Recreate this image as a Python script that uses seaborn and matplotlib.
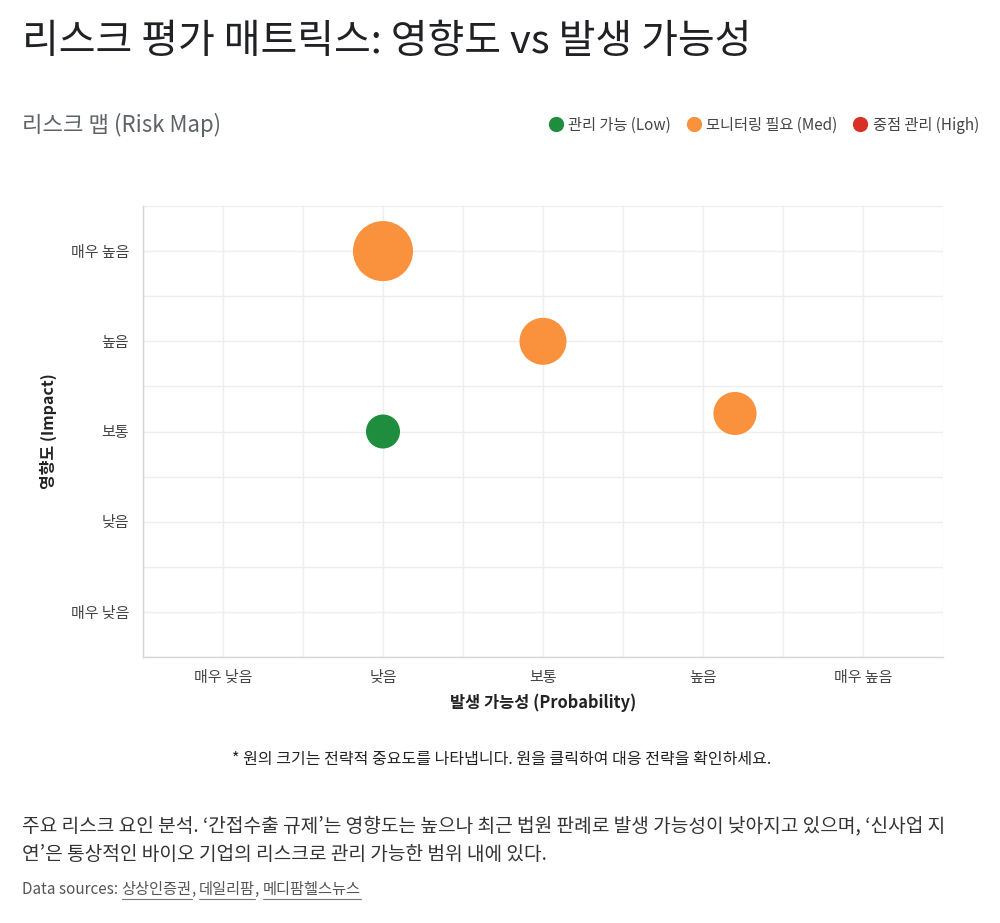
import matplotlib
matplotlib.use('Agg')
import matplotlib.pyplot as plt
from matplotlib.lines import Line2D
import seaborn as sns
import pandas as pd

# data
risk_names = ['간접수출 규제', '리스크 B', '리스크 C', '신사업 지연']
probability = [2, 3, 4.2, 2]
impact = [5, 4, 3.2, 3]
importance = [10, 6, 5, 3]
risk_level = ['Med', 'Med', 'Med', 'Low']

level_order = ['Low', 'Med', 'High']
level_labels = ['관리 가능 (Low)', '모니터링 필요 (Med)', '중점 관리 (High)']
level_colors = ['#1e8e3e', '#f9913d', '#d93025']
scale_labels = ['매우 낮음', '낮음', '보통', '높음', '매우 높음']

risks = pd.DataFrame({'name': risk_names, 'probability': probability,
                      'impact': impact, 'importance': importance,
                      'level': risk_level})

sns.set_style('white')
plt.rcParams['font.family'] = ['Noto Sans CJK KR', 'DejaVu Sans']

fig = plt.figure(figsize=(10, 9.23), dpi=100)
ax = fig.add_axes([0.143, 0.2882, 0.8, 0.4886])

palette = dict(zip(level_order, level_colors))
sns.scatterplot(data=risks, x='probability', y='impact', hue='level',
                palette=palette, size='importance', sizes=(600, 1870),
                size_norm=(3, 10), legend=False, linewidth=0, alpha=1,
                ax=ax, zorder=3)

ax.set_xlim(0.5, 5.5)
ax.set_ylim(0.5, 5.5)
ax.set_xticks(range(1, 6))
ax.set_xticklabels(scale_labels)
ax.set_yticks(range(1, 6))
ax.set_yticklabels(scale_labels)
ax.set_xticks([x + 0.5 for x in range(0, 6)], minor=True)
ax.set_yticks([y + 0.5 for y in range(0, 6)], minor=True)
ax.grid(True, which='both', color='#eeeeee', linewidth=1)
ax.set_axisbelow(True)
ax.tick_params(which='both', length=9, color='#eeeeee', width=1,
               labelsize=10.8, labelcolor='#444444', pad=1)
for side in ['top', 'right']:
    ax.spines[side].set_visible(False)
for side in ['left', 'bottom']:
    ax.spines[side].set_color('#d6d6d6')
    ax.spines[side].set_linewidth(1)

ax.set_xlabel('발생 가능성 (Probability)', fontsize=11.8, fontweight='bold',
              color='#222222', labelpad=6)
ax.set_ylabel('영향도 (Impact)', fontsize=11.5, fontweight='bold',
              color='#222222', labelpad=10)

# titles
fig.text(0.022, 0.955, '리스크 평가 매트릭스: 영향도 vs 발생 가능성',
         fontsize=28.8, color='#202124', va='center')
fig.text(0.022, 0.8646, '리스크 맵 (Risk Map)', fontsize=16,
         color='#5f6368', va='center')

# legend
handles = [Line2D([0], [0], marker='o', linestyle='', markersize=11,
                  markerfacecolor=c, markeredgewidth=0)
           for c in level_colors]
fig.legend(handles, level_labels, loc='center right',
           bbox_to_anchor=(0.985, 0.8646), ncol=3, frameon=False,
           fontsize=11, labelcolor='#444444', handletextpad=0.3,
           columnspacing=1.0, handlelength=1.0, borderaxespad=0)

# footnote and commentary
fig.text(0.502, 0.1766,
         '* 원의 크기는 전략적 중요도를 나타냅니다. 원을 클릭하여 대응 전략을 확인하세요.',
         fontsize=11.5, style='italic', color='#222222', ha='center', va='center')
fig.text(0.022, 0.1051,
         "주요 리스크 요인 분석. \u2018간접수출 규제\u2019는 영향도는 높으나 최근 법원 판례로 발생 가능성이 낮아지고 있으며, \u2018신사업 지",
         fontsize=13.8, color='#333333', va='center')
fig.text(0.022, 0.0737,
         "연\u2019은 통상적인 바이오 기업의 리스크로 관리 가능한 범위 내에 있다.",
         fontsize=13.8, color='#333333', va='center')

# data sources with underlined links
src = fig.text(0.022, 0.0358, 'Data sources: ', fontsize=11,
               color='#555555', va='center')
fig.canvas.draw()
renderer = fig.canvas.get_renderer()
x0 = src.get_window_extent(renderer).x1 / fig.bbox.width
links = ['상상인증권', '데일리팜', '메디팜헬스뉴스']
for i, name in enumerate(links):
    t = fig.text(x0, 0.0358, name, fontsize=11, color='#555555', va='center')
    bb = t.get_window_extent(renderer)
    y_line = (bb.y0 - 1) / fig.bbox.height
    fig.add_artist(Line2D([bb.x0 / fig.bbox.width, bb.x1 / fig.bbox.width],
                          [y_line, y_line], color='#777777', linewidth=0.8))
    x0 = bb.x1 / fig.bbox.width
    if i < len(links) - 1:
        c = fig.text(x0, 0.0358, ', ', fontsize=11, color='#555555', va='center')
        x0 = c.get_window_extent(renderer).x1 / fig.bbox.width

fig.savefig('out.png', dpi=100, facecolor='white')
